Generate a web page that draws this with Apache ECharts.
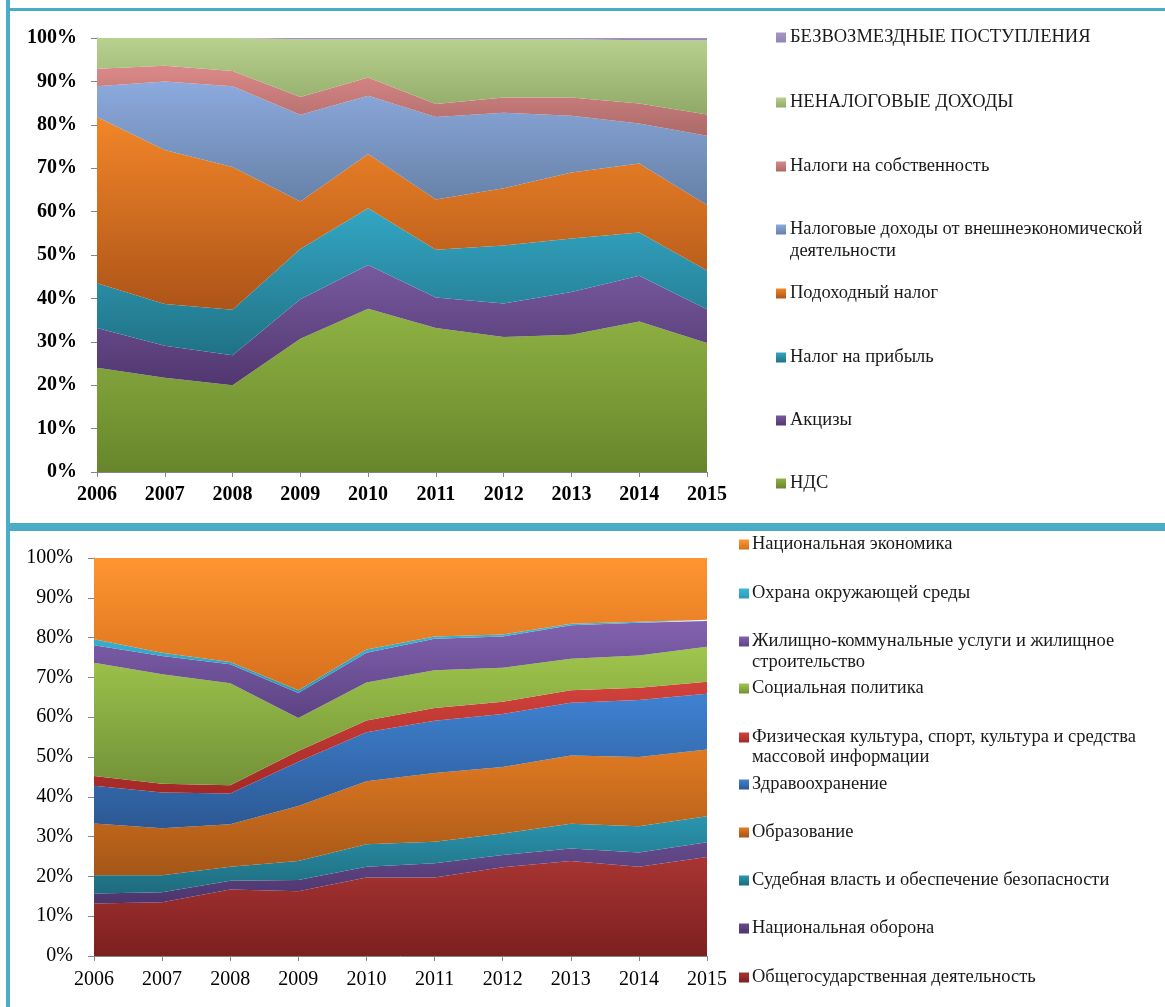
<!DOCTYPE html>
<html>
<head>
<meta charset="utf-8">
<script src="https://cdn.jsdelivr.net/npm/echarts@6/dist/echarts.min.js"></script>
<style>
html,body{margin:0;padding:0;background:#fff;}
#chart{width:1165px;height:1007px;}
</style>
</head>
<body>
<div id="chart"></div>
<script>
// ---------- DATA ----------
const years = ['2006','2007','2008','2009','2010','2011','2012','2013','2014','2015'];

// Top chart: revenue structure, % share
const vat          = [24.0, 21.7, 20.0, 30.7, 37.6, 33.2, 31.1, 31.6, 34.7, 29.7];
const excise       = [ 9.2,  7.4,  6.9,  9.1, 10.1,  7.0,  7.7,  9.9, 10.5,  7.8];
const profitTax    = [10.3,  9.6, 10.5, 11.6, 13.1, 11.0, 13.4, 12.3, 10.0,  8.9];
const incomeTax    = [38.3, 35.5, 32.9, 10.9, 12.5, 11.6, 13.2, 15.2, 15.9, 15.1];
const foreignTrade = [ 7.1, 15.8, 18.6, 20.0, 13.4, 19.0, 17.4, 13.1,  9.2, 16.0];
const propertyTax  = [ 4.0,  3.6,  3.5,  4.1,  4.2,  3.0,  3.5,  4.2,  4.6,  4.9];
const nonTax       = [ 7.1,  6.4,  7.6, 13.3,  8.8, 14.9, 13.4, 13.4, 14.6, 17.1];
const grants       = [ 0.0,  0.0,  0.0,  0.3,  0.3,  0.3,  0.3,  0.3,  0.5,  0.5];

// Bottom chart: expenditure structure, % share
const general      = [13.2, 13.5, 16.7, 16.3, 19.7, 19.7, 22.3, 23.9, 22.4, 24.9];
const defense      = [ 2.5,  2.5,  2.2,  2.8,  2.7,  3.6,  3.1,  3.1,  3.6,  3.7];
const judicial     = [ 4.6,  4.3,  3.5,  4.8,  5.7,  5.4,  5.4,  6.2,  6.6,  6.5];
const education    = [13.0, 11.8, 10.7, 13.8, 15.8, 17.3, 16.7, 17.2, 17.4, 16.8];
const health       = [ 9.5,  9.0,  7.7, 11.1, 12.3, 13.1, 13.3, 13.2, 14.3, 14.0];
const culture      = [ 2.4,  2.2,  2.1,  2.7,  3.0,  3.2,  3.1,  3.2,  3.1,  3.0];
const social       = [28.5, 27.5, 25.6,  8.3,  9.5,  9.5,  8.5,  7.9,  8.1,  8.8];
const housing      = [ 4.4,  4.6,  4.8,  6.3,  7.5,  7.9,  7.9,  8.4,  8.2,  6.5];
const environment  = [ 1.5,  0.8,  0.6,  0.7,  0.8,  0.6,  0.5,  0.4,  0.3,  0.3];
const economy      = [20.4, 23.8, 26.1, 33.2, 23.0, 19.7, 19.2, 16.5, 16.0, 15.5];

const topNames = ['НДС','Акцизы','Налог на прибыль','Подоходный налог',
  'Налоговые доходы от внешнеэкономической деятельности','Налоги на собственность',
  'НЕНАЛОГОВЫЕ ДОХОДЫ','БЕЗВОЗМЕЗДНЫЕ ПОСТУПЛЕНИЯ'];
const topData = [vat, excise, profitTax, incomeTax, foreignTrade, propertyTax, nonTax, grants];

const botNames = ['Общегосударственная деятельность','Национальная оборона',
  'Судебная власть и обеспечение безопасности','Образование','Здравоохранение',
  'Физическая культура, спорт, культура и средства массовой информации',
  'Социальная политика','Жилищно-коммунальные услуги и жилищное строительство',
  'Охрана окружающей среды','Национальная экономика'];
const botData = [general, defense, judicial, education, health, culture, social, housing, environment, economy];

// ---------- STYLE ----------
const topColors = [
  ['#8fb243','#67862c'], ['#775a9f','#513770'], ['#33a6c4','#207285'], ['#f28628','#ad5419'],
  ['#8caade','#6680a6'], ['#db8988','#ab6a69'], ['#b9d18e','#90a968'], ['#a696c6','#9384b4']
];
const botColors = [
  ['#a93532','#7c1f1f'], ['#654b8c','#4c346c'], ['#2b95b0','#1e6c7d'], ['#e07a22','#a55617'],
  ['#3f82d2','#2c5893'], ['#d3423c','#a22927'], ['#9fc64c','#739238'], ['#8262b0','#5c4383'],
  ['#3cb6d6','#2d9ab8'], ['#ff9530','#d66f1d']
];
const grad = c => new echarts.graphic.LinearGradient(0,0,0,1,[{offset:0,color:c[0]},{offset:1,color:c[1]}]);
const FONT = '"Liberation Serif","Times New Roman",serif';
const LFS = 18.5;

const series = [];
topNames.forEach((n,i)=>series.push({
  name:n, type:'line', stack:'top', xAxisIndex:0, yAxisIndex:0,
  data:topData[i], showSymbol:false, symbol:'none', lineStyle:{width:0},
  areaStyle:{color:grad(topColors[i]), opacity:1}, itemStyle:{color:grad(topColors[i])},
  emphasis:{disabled:true}, z:2
}));
botNames.forEach((n,i)=>series.push({
  name:n, type:'line', stack:'bot', xAxisIndex:1, yAxisIndex:1,
  data:botData[i], showSymbol:false, symbol:'none', lineStyle:{width:0},
  areaStyle:{color:grad(botColors[i]), opacity:1}, itemStyle:{color:grad(botColors[i])},
  emphasis:{disabled:true}, z:2
}));

// legends (one component per item, to place them like the original)
const legends = [];
const topLegTops = [474, 411, 348, 284, 220, 157, 93, 28];
topNames.forEach((n,i)=>legends.push({
  data:[n], left:776, top:topLegTops[i], padding:0, itemWidth:10, itemHeight:10,
  itemGap:0, selectedMode:false, icon:'rect',
  textStyle:{fontFamily:FONT, fontSize:LFS, lineHeight:LFS, color:'#1a1a1a', padding:[0,0,0,-1]},
  formatter: name => name.indexOf('внешнеэкономической')>=0 ? 'Налоговые доходы от внешнеэкономической' : name
}));
const botLegTops = [968, 919, 871, 823, 775, 728, 679, 632, 584, 535];
botNames.forEach((n,i)=>legends.push({
  data:[n], left:739, top:botLegTops[i], padding:0, itemWidth:10, itemHeight:10,
  itemGap:0, selectedMode:false, icon:'rect',
  textStyle:{fontFamily:FONT, fontSize:LFS, lineHeight:LFS, color:'#1a1a1a', padding:[0,0,0,-2]},
  formatter: name => {
    if (name.indexOf('Жилищно')===0) return 'Жилищно-коммунальные услуги и жилищное';
    if (name.indexOf('Физическая')===0) return 'Физическая культура, спорт, культура и средства';
    return name;
  }
}));

const axisLineStyle = {show:true, lineStyle:{color:'#868686', width:1}};
const option = {
  animation:false,
  backgroundColor:'#ffffff',
  grid:[
    {left:97, top:38, width:610, height:434},
    {left:94, top:558, width:613, height:398}
  ],
  xAxis:[
    {type:'category', gridIndex:0, data:years, boundaryGap:false,
     axisLine:axisLineStyle, axisTick:{show:true, length:5, lineStyle:{color:'#868686'}},
     axisLabel:{fontFamily:FONT, fontSize:20, fontWeight:'bold', color:'#000', margin:13}},
    {type:'category', gridIndex:1, data:years, boundaryGap:false,
     axisLine:axisLineStyle, axisTick:{show:true, length:5, lineStyle:{color:'#868686'}},
     axisLabel:{fontFamily:FONT, fontSize:20, color:'#000', margin:14}}
  ],
  yAxis:[
    {type:'value', gridIndex:0, min:0, max:100, interval:10,
     axisLine:axisLineStyle, axisTick:{show:true, length:6, lineStyle:{color:'#868686'}},
     splitLine:{show:false},
     axisLabel:{fontFamily:FONT, fontSize:20, fontWeight:'bold', color:'#000', margin:20, formatter:'{value}%'}},
    {type:'value', gridIndex:1, min:0, max:100, interval:10,
     axisLine:axisLineStyle, axisTick:{show:true, length:6, lineStyle:{color:'#868686'}},
     splitLine:{show:false},
     axisLabel:{fontFamily:FONT, fontSize:20, color:'#000', margin:21, formatter:'{value}%'}}
  ],
  legend:legends,
  series:series,
  graphic:[
    {type:'rect', shape:{x:6, y:0, width:4, height:1007}, style:{fill:'#4bacc6'}, silent:true},
    {type:'rect', shape:{x:6, y:8, width:1159, height:3}, style:{fill:'#4bacc6'}, silent:true},
    {type:'rect', shape:{x:6, y:523, width:1159, height:8}, style:{fill:'#4bacc6'}, silent:true},
    {type:'text', left:790, top:242, style:{text:'деятельности', font:LFS+'px '+FONT, fill:'#1a1a1a'}, silent:true},
    {type:'text', left:752, top:653, style:{text:'строительство', font:LFS+'px '+FONT, fill:'#1a1a1a'}, silent:true},
    {type:'text', left:752, top:748, style:{text:'массовой информации', font:LFS+'px '+FONT, fill:'#1a1a1a'}, silent:true}
  ]
};
const chart = echarts.init(document.getElementById('chart'), null, {renderer:'canvas'});
chart.setOption(option);
</script>
</body>
</html>
